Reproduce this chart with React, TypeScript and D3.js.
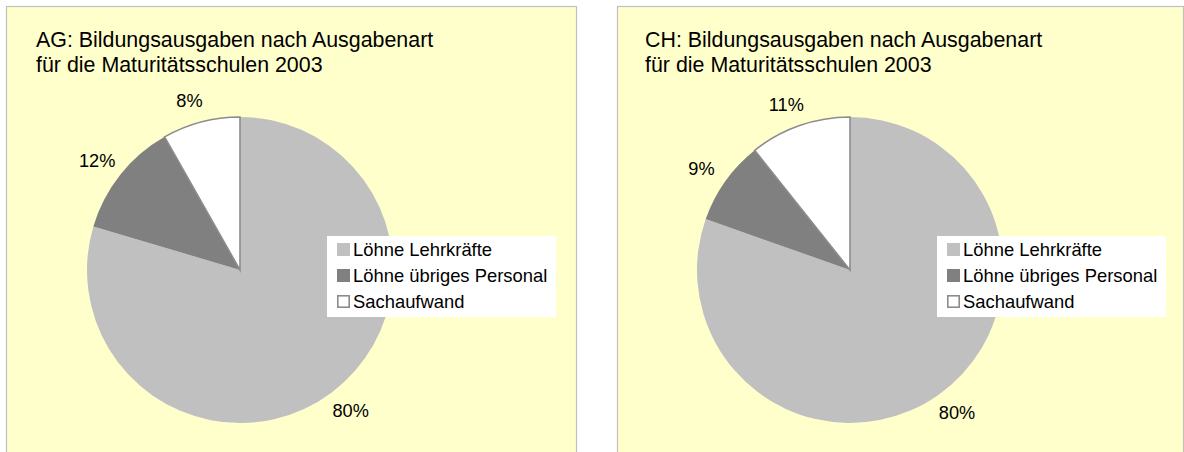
import React from "react";
import * as d3 from "d3";

const categories = ["Löhne Lehrkräfte", "Löhne übriges Personal", "Sachaufwand"];
const colors = ["#c0c0c0", "#808080", "#ffffff"];
const agValues = [79.6, 12.2, 8.2];
const chValues = [80.4, 8.9, 10.7];
const titlesAG = ["AG: Bildungsausgaben nach Ausgabenart", "für die Maturitätsschulen 2003"];
const titlesCH = ["CH: Bildungsausgaben nach Ausgabenart", "für die Maturitätsschulen 2003"];

const FONT = "'Liberation Sans', Arial, sans-serif";

type PanelProps = { x: number; w: number; values: number[]; titles: string[]; titleDx: number; pieDx: number };

function Panel({ x, w, values, titles, titleDx, pieDx }: PanelProps) {
  const R = 153;
  const cx = x + pieDx;
  const cy = 270;
  const pie = d3.pie<number>().sort(null).value((d) => d);
  const arcs = pie(values);
  const arc = d3.arc<d3.PieArcDatum<number>>().innerRadius(0).outerRadius(R);
  const labelR = 175;
  const total = d3.sum(values);
  const legendX = cx + 87;
  const legendY = 236;
  const order = [0, 1, 2];
  return (
    <g>
      <rect x={x + 0.5} y={6.5} width={w} height={470} fill="#ffffcc" stroke="#c0c0c0" strokeWidth={1.2} />
      {titles.map((t, i) => (
        <text key={i} x={x + titleDx} y={47 + i * 25} fontSize={21.4} fontFamily={FONT} fill="#000">
          {t}
        </text>
      ))}
      <g transform={`translate(${cx},${cy})`}>
        {order.map((i) => (
          <path
            key={i}
            d={arc(arcs[i]) || ""}
            fill={colors[i]}
            stroke={i === 2 ? "#8c8c8c" : "none"}
            strokeWidth={i === 2 ? 1.6 : 0}
            strokeLinejoin="miter"
          />
        ))}
        {arcs.map((a, i) => {
          const mid = (a.startAngle + a.endAngle) / 2;
          const s = Math.sin(mid);
          const lx = labelR * s + 6 * Math.sign(s);
          const ly = -labelR * Math.cos(mid);
          return (
            <text
              key={i}
              x={lx}
              y={ly}
              dy="0.35em"
              textAnchor="middle"
              fontSize={18.2}
              fontFamily={FONT}
              fill="#000"
            >
              {Math.round((a.data / total) * 100)}%
            </text>
          );
        })}
      </g>
      <rect x={legendX} y={legendY} width={229} height={81} fill="#ffffff" />
      {categories.map((c, i) => (
        <g key={c} transform={`translate(${legendX + 10},${legendY + 14 + i * 26})`}>
          {i === 2 ? (
            <rect x={0.8} y={-6.2} width={11.4} height={11.4} fill="#fff" stroke="#8c8c8c" strokeWidth={1.6} />
          ) : (
            <rect x={0} y={-7} width={13} height={13} fill={colors[i]} />
          )}
          <text x={16} y={0} dy="0.35em" fontSize={18.4} fontFamily={FONT} fill="#000">
            {c}
          </text>
        </g>
      ))}
    </g>
  );
}

export default function App() {
  return (
    <svg
      width={1184}
      height={452}
      style={{ position: "absolute", left: 0, top: 0, background: "#ffffff" }}
    >
      <Panel x={6} w={570} values={agValues} titles={titlesAG} titleDx={30} pieDx={234} />
      <Panel x={617} w={566} values={chValues} titles={titlesCH} titleDx={28} pieDx={233} />
    </svg>
  );
}
